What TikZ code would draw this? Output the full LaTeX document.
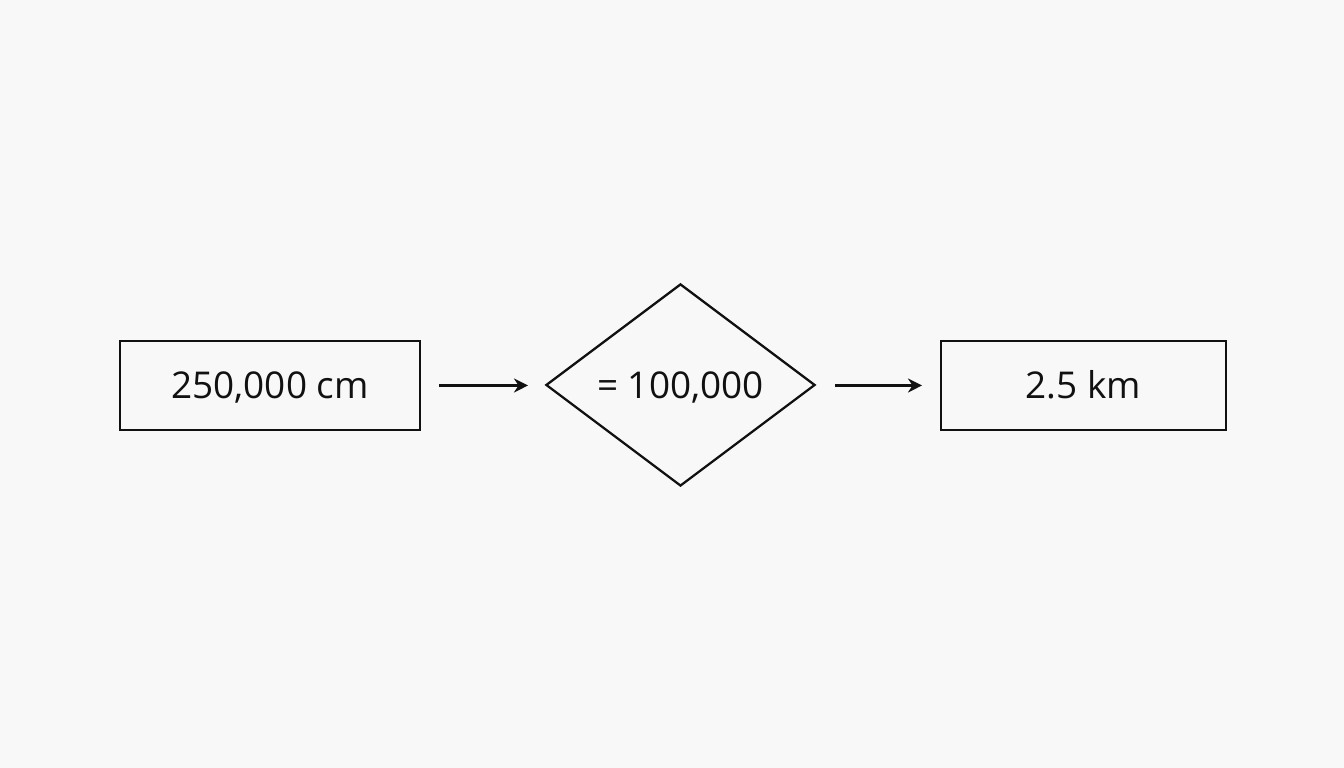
\documentclass[tikz,border=0pt]{standalone}
\usepackage{fontspec}
\setmainfont{Open Sans}
\usetikzlibrary{shapes.geometric,arrows.meta}
\definecolor{bg}{HTML}{F8F8F8}
\definecolor{ink}{HTML}{111111}
\begin{document}
\begin{tikzpicture}[x=0.01cm,y=-0.01cm,
  txt/.style={font=\fontsize{10.5pt}{12pt}\selectfont,text=ink,text height=7.6pt,text depth=0pt},
  box/.style={txt,draw=ink,line width=0.65pt,minimum width=3cm,minimum height=0.89cm,inner sep=0pt},
  dia/.style={txt,draw=ink,line width=0.65pt,diamond,minimum width=2.69cm,minimum height=2.02cm,inner sep=0pt},
  conn/.style={draw=ink,line width=0.65pt,-{Stealth[length=1.4mm,width=1.4mm,inset=0.45mm]}}]
\fill[bg] (0,0) rectangle (1344,768);
\useasboundingbox (0,0) rectangle (1344,768);
\node[box] (a) at (270,385.5) {250,000 cm};
\node[dia] (b) at (680.5,385) {= 100,000};
\node[box,minimum width=2.85cm] (c) at (1083.5,385.5) {2.5 km};
\coordinate (a1) at (439,385.5);
\coordinate (a2) at (528,385.5);
\coordinate (b1) at (835,385.5);
\coordinate (b2) at (922,385.5);
\draw[conn] (a1) -- (a2);
\draw[conn] (b1) -- (b2);
\end{tikzpicture}
\end{document}
